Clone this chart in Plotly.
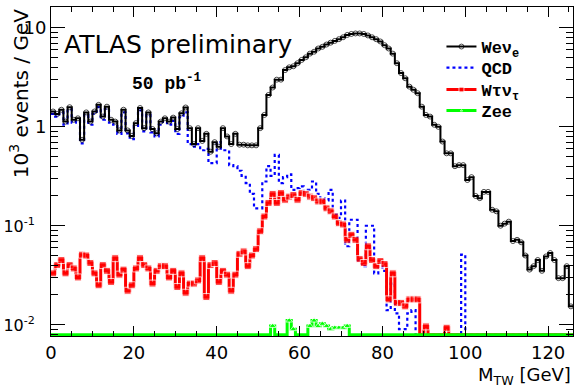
import plotly.graph_objects as go

# ---------------- data (10^3 events / GeV per 1 GeV bin, 0..126 GeV) ----------------
bin_edges_lo = 0.0
bin_width = 1.0
n_bins = 126

wenu = [1.43, 1.35, 1.49, 1.13, 1.58, 1.18, 1.22, 0.74, 1.40, 1.13,
        1.43, 1.67, 1.27, 1.60, 1.18, 1.13, 0.92, 1.49, 0.92, 0.81,
        1.09, 1.55, 0.97, 1.40, 0.95, 0.86, 1.13, 1.22, 1.13, 1.24,
        0.95, 1.37, 1.57, 0.97, 0.67, 0.97, 0.72, 0.85, 0.56, 0.70,
        0.63, 0.97, 0.80, 0.67, 0.85, 0.66, 0.66, 0.65, 0.65, 0.65,
        0.97, 1.32, 2.1, 2.5, 3.0, 3.0, 3.75, 4.0, 4.1, 4.4,
        4.75, 5.05, 5.5, 5.75, 6.2, 6.45, 6.8, 7.1, 7.4, 7.7,
        8.05, 8.5, 8.7, 8.8, 8.8, 8.7, 8.4, 8.05, 7.7, 7.3,
        6.7, 6.2, 5.5, 4.4, 3.5, 3.1, 2.55, 2.37, 2.19, 1.6,
        1.32, 1.27, 1.05, 1.0, 0.71, 0.54, 0.54, 0.40, 0.41, 0.41,
        0.29, 0.31, 0.20, 0.19, 0.22, 0.22, 0.145, 0.14, 0.10, 0.105,
        0.11, 0.07, 0.072, 0.068, 0.05, 0.036, 0.039, 0.045, 0.035, 0.049,
        0.053, 0.045, 0.0295, 0.0295, 0.039, 0.0153]

qcd = [1.35, 1.27, 1.40, 1.05, 1.50, 1.10, 1.15, 0.68, 1.32, 1.05,
       1.35, 1.58, 1.18, 1.52, 1.10, 1.05, 0.85, 1.40, 0.86, 0.75,
       1.02, 1.47, 0.90, 1.32, 0.88, 0.80, 1.05, 1.14, 1.05, 1.15,
       0.85, 1.25, 1.40, 0.67, 0.63, 0.67, 0.58, 0.60, 0.43, 0.43,
       0.70, 0.58, 0.58, 0.41, 0.40, 0.36, 0.32, 0.27, 0.21, 0.15,
       0.15, 0.28, 0.40, 0.32, 0.52, 0.27, 0.31, 0.33, 0.23, 0.24,
       0.25, 0.21, 0.23, 0.28, 0.21, 0.19, 0.18, 0.23, 0.13, 0.12,
       0.18, 0.062, 0.115, 0.115, 0.045, 0.039, 0.10, 0.10, 0.033, 0.042,
       0.035, 0.014, 0.026, 0.013, 0.009, 0.009, 0.013, 0.014, 0, 0,
       0, 0, 0, 0, 0, 0, 0, 0, 0, 0.051,
       0, 0, 0, 0, 0, 0, 0, 0, 0, 0,
       0, 0, 0, 0, 0, 0, 0, 0, 0, 0,
       0, 0, 0, 0, 0, 0]

wtaunu = [0.033, 0.040, 0.045, 0.033, 0.040, 0.037, 0.030, 0.051, 0.050, 0.042,
          0.033, 0.025, 0.040, 0.035, 0.027, 0.047, 0.032, 0.036, 0.022, 0.025,
          0.037, 0.047, 0.040, 0.037, 0.026, 0.035, 0.039, 0.039, 0.030, 0.035,
          0.024, 0.033, 0.021, 0.026, 0.026, 0.028, 0.047, 0.019, 0.040, 0.042,
          0.027, 0.035, 0.032, 0.022, 0.032, 0.052, 0.055, 0.039, 0.050, 0.058,
          0.088, 0.124, 0.17, 0.21, 0.17, 0.214, 0.183, 0.197, 0.205, 0.183,
          0.214, 0.21, 0.197, 0.19, 0.176, 0.176, 0.15, 0.14, 0.124, 0.106,
          0.103, 0.072, 0.081, 0.072, 0.046, 0.042, 0.062, 0.045, 0.039, 0.044,
          0.041, 0.018, 0.033, 0.0166, 0.0166, 0.0153, 0.018, 0.018, 0.018, 0,
          0.0096, 0, 0, 0, 0, 0.0093, 0, 0, 0, 0,
          0, 0, 0, 0, 0, 0, 0, 0, 0, 0,
          0, 0, 0, 0, 0, 0, 0, 0, 0, 0,
          0, 0, 0, 0, 0, 0]

zee = [0] * 53 + [0.0097, 0, 0, 0, 0.011, 0.009, 0, 0, 0, 0.0097,
                  0.011, 0.0097, 0.0102, 0.0097, 0.009, 0.0093, 0.0093, 0.0093, 0.0097] + [0] * 54

y_tickvals = [0.01, 0.1, 1, 10]
NB = "\u00a0"
y_ticktext = ["<span style='font-size:16px'>10<sup>-2</sup></span>" + NB * 2,
              "<span style='font-size:16px'>10<sup>-1</sup></span>" + NB * 2, "1", "10"]
x_tickvals = [0, 20, 40, 60, 80, 100, 120]

# ---------------- helpers ----------------
LOG_MIN, LOG_MAX = -2.115, 1.212
FLOOR = 10 ** -2.103   # empty bins drawn at the bottom of the frame (ROOT-like)

centers = [bin_edges_lo + bin_width * (i + 0.5) for i in range(n_bins)]
x_hi = bin_edges_lo + bin_width * n_bins


def step_trace(vals, name, color, dash, width, symbol, msize, legend_id, mline=None):
    ys = [v if v > 0 else FLOOR for v in vals]
    xs = [bin_edges_lo] + centers + [x_hi]
    yy = [ys[0]] + ys + [ys[-1]]
    sizes = [0] + [msize if v > 0 else 0 for v in vals] + [0]
    marker = dict(symbol=symbol, size=sizes, color=color)
    if mline:
        marker["line"] = mline
    return go.Scatter(
        x=xs, y=yy, name=name, mode="lines+markers" if msize else "lines",
        line=dict(color=color, width=width, dash=dash, shape="hvh"),
        marker=marker, legend=legend_id, cliponaxis=True,
    )


fig = go.Figure()
fig.add_trace(step_trace(qcd, "QCD", "#0000ff", "3px,3px", 2.2, "circle", 0, "legend2"))
fig.add_trace(step_trace(wtaunu, "Wτν<sub>τ</sub>", "#ff0000", "solid", 3, "square", 7, "legend3"))
fig.add_trace(step_trace(zee, "Zee", "#00ff00", "solid", 3, "triangle-up", 6, "legend4"))
fig.add_trace(step_trace(wenu, "Weν<sub>e</sub>", "#000000", "solid", 2, "circle-open", 5, "legend",
                         mline=dict(color="#555555", width=1)))

axis_font = dict(family="DejaVu Sans", size=18, color="black")
leg_font = dict(family="Liberation Mono", size=17, color="black", weight="bold")


def leg(ypix):
    return dict(x=0.748, y=(336 - ypix) / 329, xanchor="left", yanchor="middle",
                font=leg_font, bgcolor="rgba(0,0,0,0)", borderwidth=0, itemwidth=30)


fig.update_layout(
    width=576, height=388,
    margin=dict(l=51, r=3, t=7, b=52, autoexpand=False),
    paper_bgcolor="white", plot_bgcolor="white",
    showlegend=True,
    legend=leg(47), legend2=leg(68), legend3=leg(90), legend4=leg(111),
    xaxis=dict(
        range=[0, x_hi], showgrid=False, zeroline=False, automargin=False,
        showline=True, linecolor="black", linewidth=1, mirror="ticks",
        ticks="inside", ticklen=10, tickcolor="black",
        tickvals=x_tickvals, tickfont=axis_font,
        minor=dict(ticks="inside", ticklen=5, dtick=5, tick0=0, tickcolor="black"),
    ),
    yaxis=dict(
        type="log", range=[LOG_MIN, LOG_MAX], showgrid=False, zeroline=False, automargin=False,
        showline=True, linecolor="black", linewidth=1, mirror="ticks",
        ticks="inside", ticklen=14, tickcolor="black",
        tickvals=y_tickvals, ticktext=y_ticktext, tickfont=axis_font,
        minor=dict(ticks="inside", ticklen=7, tickcolor="black",
                   tickvals=[m * 10 ** e for e in (-3, -2, -1, 0, 1) for m in range(2, 10)]),
    ),
)

fig.add_annotation(text="ATLAS preliminary", xref="paper", yref="paper",
                   x=0.022, y=0.885, xanchor="left", yanchor="middle", showarrow=False,
                   font=dict(family="DejaVu Sans", size=25, color="black"))
fig.add_annotation(text="50 pb<sup>-1</sup>", xref="paper", yref="paper",
                   x=0.152, y=0.77, xanchor="left", yanchor="middle", showarrow=False,
                   font=dict(family="Liberation Mono", size=18, color="black", weight="bold"))
fig.add_annotation(text="10<sup>3</sup> events / GeV", xref="paper", yref="paper",
                   x=-0.062, y=1.0, xanchor="center", yanchor="top", showarrow=False,
                   textangle=-90, font=dict(family="DejaVu Sans", size=20, color="black"))
fig.add_annotation(text="M<sub>TW</sub> [GeV]", xref="paper", yref="paper",
                   x=1.0, y=-0.122, xanchor="right", yanchor="middle", showarrow=False,
                   font=dict(family="DejaVu Sans", size=18, color="black"))

fig.write_html("out.html")
